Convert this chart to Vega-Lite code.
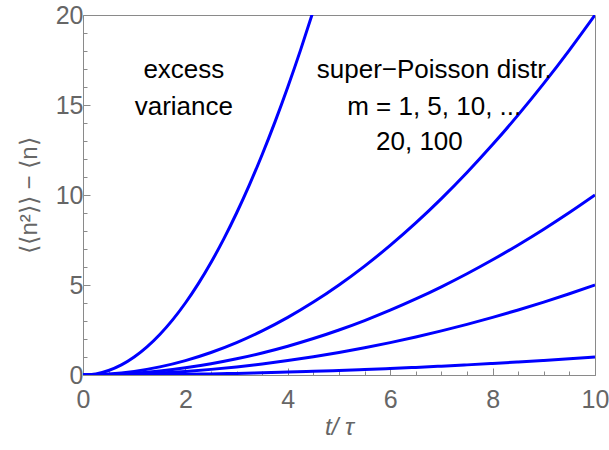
{
  "$schema": "https://vega.github.io/schema/vega-lite/v6.json",
  "autosize": "none",
  "width": 512,
  "height": 360,
  "padding": {"left": 83, "top": 15, "right": 14, "bottom": 75},
  "background": "white",
  "config": {
    "view": {"stroke": "#8a8a8a", "strokeWidth": 1},
    "axis": {
      "domainColor": "#8a8a8a",
      "tickColor": "#8a8a8a",
      "labelColor": "#666666",
      "titleColor": "#666666",
      "labelFont": "Liberation Sans",
      "titleFont": "Liberation Sans",
      "labelFontSize": 25,
      "titleFontSize": 24,
      "titleFontWeight": "normal",
      "grid": false
    }
  },
  "datasets": {
    "curves": [
      {"m": 1, "t": 0, "v": 0}, {"m": 1, "t": 0.5, "v": 0.0025}, {"m": 1, "t": 1, "v": 0.01}, {"m": 1, "t": 1.5, "v": 0.0225}, {"m": 1, "t": 2, "v": 0.04}, {"m": 1, "t": 2.5, "v": 0.0625}, {"m": 1, "t": 3, "v": 0.09}, {"m": 1, "t": 3.5, "v": 0.1225}, {"m": 1, "t": 4, "v": 0.16}, {"m": 1, "t": 4.5, "v": 0.2025}, {"m": 1, "t": 5, "v": 0.25}, {"m": 1, "t": 5.5, "v": 0.3025}, {"m": 1, "t": 6, "v": 0.36}, {"m": 1, "t": 6.5, "v": 0.4225}, {"m": 1, "t": 7, "v": 0.49}, {"m": 1, "t": 7.5, "v": 0.5625}, {"m": 1, "t": 8, "v": 0.64}, {"m": 1, "t": 8.5, "v": 0.7225}, {"m": 1, "t": 9, "v": 0.81}, {"m": 1, "t": 9.5, "v": 0.9025}, {"m": 1, "t": 10, "v": 1},
      {"m": 5, "t": 0, "v": 0}, {"m": 5, "t": 0.5, "v": 0.0125}, {"m": 5, "t": 1, "v": 0.05}, {"m": 5, "t": 1.5, "v": 0.1125}, {"m": 5, "t": 2, "v": 0.2}, {"m": 5, "t": 2.5, "v": 0.3125}, {"m": 5, "t": 3, "v": 0.45}, {"m": 5, "t": 3.5, "v": 0.6125}, {"m": 5, "t": 4, "v": 0.8}, {"m": 5, "t": 4.5, "v": 1.0125}, {"m": 5, "t": 5, "v": 1.25}, {"m": 5, "t": 5.5, "v": 1.5125}, {"m": 5, "t": 6, "v": 1.8}, {"m": 5, "t": 6.5, "v": 2.1125}, {"m": 5, "t": 7, "v": 2.45}, {"m": 5, "t": 7.5, "v": 2.8125}, {"m": 5, "t": 8, "v": 3.2}, {"m": 5, "t": 8.5, "v": 3.6125}, {"m": 5, "t": 9, "v": 4.05}, {"m": 5, "t": 9.5, "v": 4.5125}, {"m": 5, "t": 10, "v": 5},
      {"m": 10, "t": 0, "v": 0}, {"m": 10, "t": 0.5, "v": 0.025}, {"m": 10, "t": 1, "v": 0.1}, {"m": 10, "t": 1.5, "v": 0.225}, {"m": 10, "t": 2, "v": 0.4}, {"m": 10, "t": 2.5, "v": 0.625}, {"m": 10, "t": 3, "v": 0.9}, {"m": 10, "t": 3.5, "v": 1.225}, {"m": 10, "t": 4, "v": 1.6}, {"m": 10, "t": 4.5, "v": 2.025}, {"m": 10, "t": 5, "v": 2.5}, {"m": 10, "t": 5.5, "v": 3.025}, {"m": 10, "t": 6, "v": 3.6}, {"m": 10, "t": 6.5, "v": 4.225}, {"m": 10, "t": 7, "v": 4.9}, {"m": 10, "t": 7.5, "v": 5.625}, {"m": 10, "t": 8, "v": 6.4}, {"m": 10, "t": 8.5, "v": 7.225}, {"m": 10, "t": 9, "v": 8.1}, {"m": 10, "t": 9.5, "v": 9.025}, {"m": 10, "t": 10, "v": 10},
      {"m": 20, "t": 0, "v": 0}, {"m": 20, "t": 0.5, "v": 0.05}, {"m": 20, "t": 1, "v": 0.2}, {"m": 20, "t": 1.5, "v": 0.45}, {"m": 20, "t": 2, "v": 0.8}, {"m": 20, "t": 2.5, "v": 1.25}, {"m": 20, "t": 3, "v": 1.8}, {"m": 20, "t": 3.5, "v": 2.45}, {"m": 20, "t": 4, "v": 3.2}, {"m": 20, "t": 4.5, "v": 4.05}, {"m": 20, "t": 5, "v": 5}, {"m": 20, "t": 5.5, "v": 6.05}, {"m": 20, "t": 6, "v": 7.2}, {"m": 20, "t": 6.5, "v": 8.45}, {"m": 20, "t": 7, "v": 9.8}, {"m": 20, "t": 7.5, "v": 11.25}, {"m": 20, "t": 8, "v": 12.8}, {"m": 20, "t": 8.5, "v": 14.45}, {"m": 20, "t": 9, "v": 16.2}, {"m": 20, "t": 9.5, "v": 18.05}, {"m": 20, "t": 10, "v": 20},
      {"m": 100, "t": 0, "v": 0}, {"m": 100, "t": 0.25, "v": 0.0625}, {"m": 100, "t": 0.5, "v": 0.25}, {"m": 100, "t": 0.75, "v": 0.5625}, {"m": 100, "t": 1, "v": 1}, {"m": 100, "t": 1.25, "v": 1.5625}, {"m": 100, "t": 1.5, "v": 2.25}, {"m": 100, "t": 1.75, "v": 3.0625}, {"m": 100, "t": 2, "v": 4}, {"m": 100, "t": 2.25, "v": 5.0625}, {"m": 100, "t": 2.5, "v": 6.25}, {"m": 100, "t": 2.75, "v": 7.5625}, {"m": 100, "t": 3, "v": 9}, {"m": 100, "t": 3.25, "v": 10.5625}, {"m": 100, "t": 3.5, "v": 12.25}, {"m": 100, "t": 3.75, "v": 14.0625}, {"m": 100, "t": 4, "v": 16}, {"m": 100, "t": 4.25, "v": 18.0625}, {"m": 100, "t": 4.5, "v": 20.25}
    ],
    "notes": [
      {"t": 1.97, "v": 16.5, "label": "excess"},
      {"t": 1.97, "v": 14.44, "label": "variance"},
      {"t": 6.86, "v": 16.5, "label": "super−Poisson distr."},
      {"t": 6.86, "v": 14.44, "label": "m = 1, 5, 10, ..."},
      {"t": 6.57, "v": 12.5, "label": "20, 100"}
    ]
  },
  "layer": [
    {
      "data": {"name": "curves"},
      "mark": {"type": "line", "color": "#0000ff", "strokeWidth": 3, "clip": true, "interpolate": "monotone"},
      "encoding": {
        "x": {"field": "t", "type": "quantitative",
              "scale": {"domain": [0, 10], "nice": false, "zero": false},
              "axis": {"orient": "bottom", "values": [0, 2, 4, 6, 8, 10], "tickSize": -7, "labelPadding": 19,
                       "title": "t/ τ", "titleFontStyle": "italic", "titlePadding": 3, "labelFlush": false}},
        "y": {"field": "v", "type": "quantitative",
              "scale": {"domain": [0, 20], "nice": false, "zero": false},
              "axis": {"orient": "left", "values": [0, 5, 10, 15, 20], "tickSize": -7, "labelPadding": 7,
                       "title": "⟨⟨n²⟩⟩ − ⟨n⟩", "titlePadding": 14, "labelFlush": false}},
        "detail": {"field": "m", "type": "nominal"}
      }
    },
    {
      "data": {"name": "notes"},
      "mark": {"type": "text", "font": "Liberation Sans", "fontSize": 26, "color": "black", "align": "center", "baseline": "alphabetic"},
      "encoding": {
        "x": {"field": "t", "type": "quantitative",
              "axis": {"orient": "bottom", "values": [0.5, 1, 1.5, 2.5, 3, 3.5, 4.5, 5, 5.5, 6.5, 7, 7.5, 8.5, 9, 9.5], "tickSize": -4, "labels": false, "domain": false, "title": null}},
        "y": {"field": "v", "type": "quantitative",
              "axis": {"orient": "left", "values": [1, 2, 3, 4, 6, 7, 8, 9, 11, 12, 13, 14, 16, 17, 18, 19], "tickSize": -4, "labels": false, "domain": false, "title": null}},
        "text": {"field": "label", "type": "nominal"}
      }
    }
  ],
  "resolve": {"axis": {"x": "independent", "y": "independent"}}
}
